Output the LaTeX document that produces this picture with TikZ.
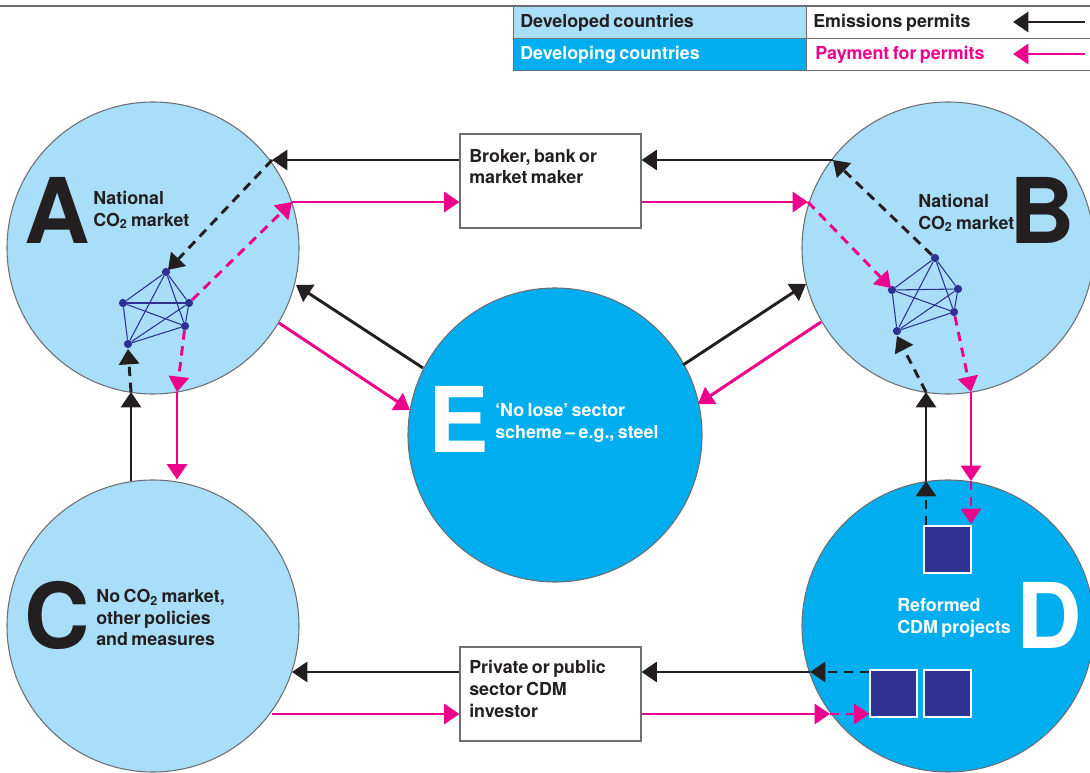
\documentclass[tikz,border=0pt]{standalone}
\usepackage{fontspec}
\setmainfont[WordSpace=0.7]{TeX Gyre Heros}
\usetikzlibrary{arrows.meta}

\definecolor{paleblue}{HTML}{A9DEF9}
\definecolor{deepblue}{HTML}{00AEEF}
\definecolor{permitpink}{HTML}{EC008C}
\definecolor{navydot}{HTML}{2E3192}
\definecolor{inkblack}{HTML}{231F20}
\definecolor{rulegrey}{HTML}{6D6E71}

\begin{document}
\begin{tikzpicture}[x=0.75pt, y=-0.75pt]
    \tikzset{
        >={Triangle[length=11.5pt, width=15pt]},
        permit/.style={draw=inkblack, line width=2.2pt, ->},
        payment/.style={draw=permitpink, line width=2.2pt, ->},
        dashpart/.style={dash pattern=on 7pt off 5pt},
        market/.style={circle, draw=rulegrey, line width=0.8pt, minimum size=219pt, inner sep=0pt},
        tradebox/.style={draw=rulegrey, fill=white, line width=0.8pt, minimum width=135.75pt, minimum height=70.5pt, inner sep=0pt},
        project/.style={draw=white, fill=navydot, line width=0.8pt, minimum size=35.25pt, inner sep=0pt},
        firm/.style={circle, fill=navydot, minimum size=6.2pt, inner sep=0pt},
        bigletter/.style={font=\fontsize{68}{68}\selectfont\bfseries, inner sep=0pt},
        caption/.style={font=\fontsize{13.4}{16.2}\selectfont\bfseries, align=left, anchor=west, inner sep=0pt},
        keycell/.style={draw=rulegrey, line width=0.8pt, anchor=north west, minimum height=24pt, inner sep=0pt}
    }
    \useasboundingbox (0, 0) rectangle (1090, 773);

    % Rule and legend
    \draw[rulegrey, line width=0.8pt] (0, 6) -- (1090, 6);
    \node[keycell, fill=paleblue, minimum width=219.75pt] (keydev) at (513, 6) {};
    \node[keycell, fill=deepblue, minimum width=219.75pt] (keypoor) at (513, 38) {};
    \node[keycell, minimum width=213pt] (keypermit) at (806, 6) {};
    \node[keycell, minimum width=213pt] (keypay) at (806, 38) {};
    \node[caption, text=inkblack] (txtdev) at (520, 23) {Developed countries};
    \node[caption, text=white] (txtpoor) at (520, 55) {Developing countries};
    \node[caption, text=inkblack] (txtpermit) at (813, 23) {Emissions permits};
    \node[caption, text=permitpink] (txtpay) at (815, 55) {Payment for permits};
    \coordinate (keya) at (1085, 22);
    \coordinate (keyb) at (1013, 22);
    \coordinate (keyc) at (1085, 54);
    \coordinate (keyd) at (1013, 54);
    \draw[permit] (keya) -- (keyb);
    \draw[payment] (keyc) -- (keyd);

    % Draw the circles
    \node[market, fill=paleblue] (A) at (153, 248) {};
    \node[market, fill=paleblue] (B) at (948, 248) {};
    \node[market, fill=paleblue] (C) at (153, 626) {};
    \node[market, fill=deepblue] (D) at (948, 626) {};
    \node[market, fill=deepblue, minimum size=220.5pt] (E) at (555, 435) {};

    % The two boxes in the middle
    \node[tradebox] (broker) at (550.5, 181) {};
    \node[tradebox] (investor) at (550.5, 694) {};

    % Letters and captions
    \node[bigletter, text=inkblack] (letA) at (57, 210.5) {A};
    \node[bigletter, text=inkblack] (letB) at (1042, 210.5) {B};
    \node[bigletter, text=inkblack] (letC) at (57, 615.5) {C};
    \node[bigletter, text=white] (letD) at (1049, 615.5) {D};
    \node[bigletter, text=white] (letE) at (458.5, 419.5) {E};

    \node[caption, text=inkblack] (txtA) at (93, 210) {National\\CO\textsubscript{2} market};
    \node[caption, text=inkblack] (txtB) at (918, 213) {National\\CO\textsubscript{2} market};
    \node[caption, text=inkblack] (txtC) at (96, 617.5) {No CO\textsubscript{2} market,\\other policies\\and measures};
    \node[caption, text=white] (txtD) at (897, 618) {Reformed\\CDM projects};
    \node[caption, text=white] (txtE) at (495, 423) {`No lose' sector\\scheme -- e.g., steel};
    \node[caption, text=inkblack] (txtbroker) at (469, 166.5) {Broker, bank or\\market maker};
    \node[caption, text=inkblack] (txtinvestor) at (469, 689) {Private or public\\sector CDM\\investor};

    % Small firms in A
    \node[firm] (a1) at (166, 272) {};
    \node[firm] (a2) at (123, 303) {};
    \node[firm] (a3) at (189, 303) {};
    \node[firm] (a4) at (185, 326) {};
    \node[firm] (a5) at (128, 344) {};

    % Small firms in B
    \node[firm] (b1) at (935, 258) {};
    \node[firm] (b2) at (892, 290) {};
    \node[firm] (b3) at (958, 289) {};
    \node[firm] (b4) at (954, 312) {};
    \node[firm] (b5) at (897, 331) {};

    \foreach \net in {a, b} {
        \foreach \i/\j in {1/2, 1/3, 1/4, 1/5, 2/3, 2/4, 2/5, 3/4, 3/5, 4/5}
            \draw[navydot, line width=0.8pt] (\net\i) -- (\net\j);
    }

    % Projects in D
    \node[project] (p1) at (947.5, 549.5) {};
    \node[project] (p2) at (893.5, 693.5) {};
    \node[project] (p3) at (947.5, 693.5) {};

    % Where solid and dashed lines meet
    \coordinate (ja) at (272, 160);
    \coordinate (jb) at (292, 202);
    \coordinate (jc) at (177, 392);
    \coordinate (jd) at (131, 392);
    \coordinate (je) at (833, 160);
    \coordinate (jf) at (808, 202);
    \coordinate (jg) at (926, 392);
    \coordinate (jh) at (971, 392);
    \coordinate (ji) at (926, 481);
    \coordinate (jj) at (971, 481);
    \coordinate (jk) at (810, 672);
    \coordinate (jl) at (830, 714);
    \coordinate (fa) at (168, 270);
    \coordinate (fb) at (128, 349);
    \coordinate (fc) at (891, 288);
    \coordinate (fd) at (897, 336);
    \coordinate (fe) at (971, 524);

    % Around A
    \draw[permit] (broker.west |- ja) -- (ja);
    \draw[permit, dashpart] (ja) -- (fa);
    \draw[payment] (jb) -- (broker.west |- jb);
    \draw[payment, dashpart] (a3) -- (jb);
    \draw[payment, dashpart] (a4) -- (jc);
    \draw[payment] (jc) -- (jc |- C.north);
    \draw[permit] (jd |- 0, 481) -- (jd);
    \draw[permit, dashpart] (jd) -- (fb);

    % Around B
    \draw[permit] (je) -- (broker.east |- je);
    \draw[permit, dashpart] (b1) -- (je);
    \draw[payment] (broker.east |- jf) -- (jf);
    \draw[payment, dashpart] (jf) -- (fc);
    \draw[permit] (ji) -- (jg);
    \draw[permit, dashpart] (jg) -- (fd);
    \draw[payment, dashpart] (b4) -- (jh);
    \draw[payment] (jh) -- (jj);

    % Around E
    \coordinate (ea) at (423, 368);
    \coordinate (eb) at (296, 285);
    \coordinate (ec) at (279, 323);
    \coordinate (ed) at (410, 410);
    \coordinate (ee) at (683, 365);
    \coordinate (ef) at (806, 284);
    \coordinate (eg) at (821, 322);
    \coordinate (eh) at (698, 404);
    \draw[permit] (ea) -- (eb);
    \draw[payment] (ec) -- (ed);
    \draw[permit] (ee) -- (ef);
    \draw[payment] (eg) -- (eh);

    % Around D and the investor
    \draw[permit, dashpart] (ji |- p1.north) -- (ji);
    \draw[payment, dashpart] (jj) -- (fe);
    \draw[permit, dashpart] (p2.west |- jk) -- (jk);
    \draw[permit] (jk) -- (investor.east |- jk);
    \coordinate (ca) at (292, 672);
    \coordinate (cb) at (272, 714);
    \draw[permit] (investor.west |- ca) -- (ca);
    \draw[payment] (cb) -- (investor.west |- cb);
    \draw[payment] (investor.east |- jl) -- (jl);
    \draw[payment, dashpart] (jl) -- (p2.west |- jl);
\end{tikzpicture}
\end{document}
